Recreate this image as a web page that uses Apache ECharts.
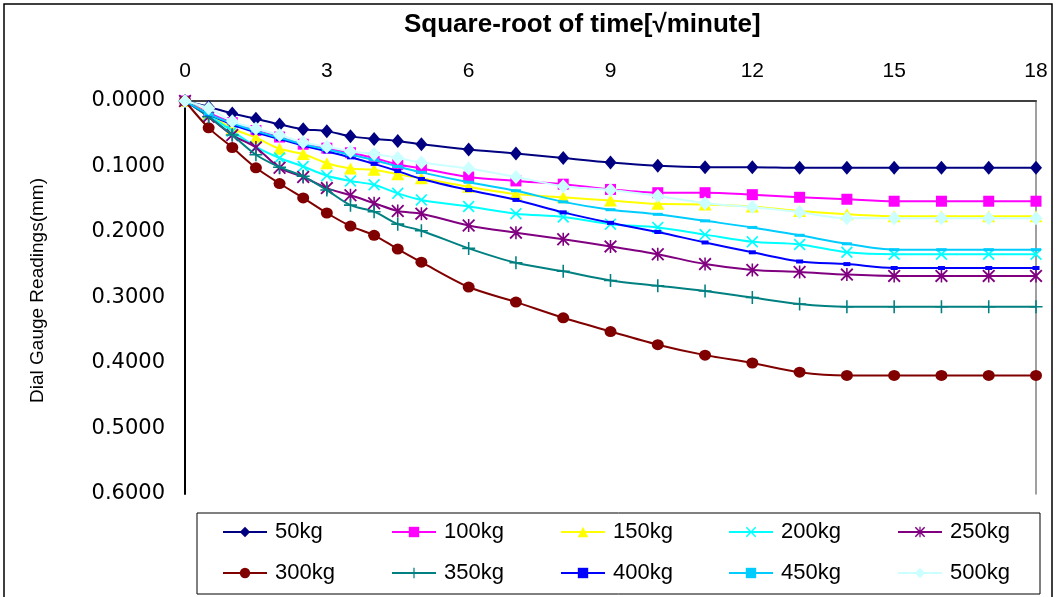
<!DOCTYPE html>
<html>
<head>
<meta charset="utf-8">
<script src="https://cdn.jsdelivr.net/npm/echarts@6/dist/echarts.min.js"></script>
<style>
html,body{margin:0;padding:0;background:#fff;}
#c{width:1058px;height:597px;}
</style>
</head>
<body>
<div id="c"></div>
<script>
// ---- data ----
const xValues = [0,0.5,1,1.5,2,2.5,3,3.5,4,4.5,5,6,7,8,9,10,11,12,13,14,15,16,17,18];
const seriesNames = ['50kg','100kg','150kg','200kg','250kg','300kg','350kg','400kg','450kg','500kg'];
const s50  = [0,0.009,0.019,0.027,0.036,0.043,0.046,0.054,0.058,0.061,0.066,0.074,0.080,0.087,0.094,0.099,0.101,0.101,0.102,0.102,0.102,0.102,0.102,0.102];
const s100 = [0,0.018,0.033,0.045,0.055,0.066,0.072,0.079,0.087,0.097,0.103,0.116,0.122,0.127,0.135,0.140,0.140,0.143,0.147,0.150,0.153,0.153,0.153,0.153];
const s150 = [0,0.020,0.042,0.056,0.073,0.081,0.095,0.103,0.105,0.112,0.118,0.131,0.142,0.147,0.152,0.157,0.158,0.161,0.168,0.173,0.176,0.176,0.176,0.176];
const s200 = [0,0.022,0.046,0.070,0.087,0.100,0.114,0.122,0.128,0.141,0.151,0.161,0.172,0.177,0.188,0.193,0.204,0.215,0.219,0.231,0.234,0.234,0.234,0.234];
const s250 = [0,0.024,0.052,0.071,0.102,0.116,0.133,0.144,0.156,0.168,0.172,0.190,0.201,0.211,0.222,0.234,0.249,0.258,0.261,0.265,0.267,0.267,0.267,0.267];
const s300 = [0,0.041,0.071,0.102,0.126,0.148,0.171,0.191,0.205,0.226,0.246,0.284,0.307,0.331,0.352,0.372,0.388,0.400,0.414,0.419,0.419,0.419,0.419,0.419];
const s350 = [0,0.024,0.052,0.082,0.101,0.115,0.136,0.159,0.169,0.188,0.198,0.225,0.247,0.260,0.274,0.282,0.290,0.300,0.310,0.314,0.314,0.314,0.314,0.314];
const s400 = [0,0.020,0.036,0.048,0.058,0.068,0.077,0.086,0.096,0.107,0.119,0.136,0.151,0.170,0.186,0.200,0.216,0.231,0.245,0.249,0.255,0.255,0.255,0.255];
const s450 = [0,0.020,0.034,0.046,0.056,0.066,0.074,0.082,0.090,0.100,0.109,0.124,0.137,0.154,0.166,0.173,0.183,0.193,0.205,0.218,0.227,0.227,0.227,0.227];
const s500 = [0,0.011,0.031,0.042,0.052,0.063,0.070,0.077,0.081,0.087,0.094,0.103,0.116,0.130,0.136,0.145,0.156,0.162,0.170,0.179,0.179,0.179,0.179,0.179];
const seriesValues = [s50,s100,s150,s200,s250,s300,s350,s400,s450,s500];
const xTitle = 'Square-root of time[\u221Aminute]';
const yTitle = 'Dial Gauge Readings(mm)';

// ---- styles ----
const X_PATH = 'path://M0,1 L1,0 L5,4 L9,0 L10,1 L6,5 L10,9 L9,10 L5,6 L1,10 L0,9 L4,5 Z';
const PLUS_PATH = 'path://M4.4,0 H5.6 V4.4 H10 V5.6 H5.6 V10 H4.4 V5.6 H0 V4.4 H4.4 Z';
const STAR_PATH = 'path://M0,1 L1,0 L5,4 L9,0 L10,1 L6,5 L10,9 L9,10 L5,6 L1,10 L0,9 L4,5 Z M4.4,0 H5.6 V10 H4.4 Z';
const styles = [
  {color:'#000080', symbol:'diamond', size:[12,14]},
  {color:'#FF00FF', symbol:'rect', size:11},
  {color:'#FFFF00', symbol:'triangle', size:[13,12]},
  {color:'#00FFFF', symbol:X_PATH, size:12},
  {color:'#800080', symbol:STAR_PATH, size:13},
  {color:'#800000', symbol:'circle', size:[12,11]},
  {color:'#008080', symbol:PLUS_PATH, size:13},
  {color:'#0000FF', symbol:'rect', size:[7,4]},
  {color:'#00CCFF', symbol:'rect', size:[10,3]},
  {color:'#CCFFFF', symbol:'diamond', size:[13,14]}
];

const series = seriesNames.map((n,i)=>({
  name:n, type:'line', smooth:0.3,
  data: xValues.map((x,j)=>[x, seriesValues[i][j]]),
  symbol: styles[i].symbol, symbolSize: styles[i].size,
  showAllSymbol: true,
  lineStyle:{color:styles[i].color, width:2},
  itemStyle:{color:styles[i].color, borderWidth:0},
  z: 2 + i
}));
// right border helper
series.push({type:'line', yAxisIndex:1, data:[], silent:true});

const colLeft = [222, 391, 560, 728, 897];
const rowTop = [521, 562];
const legends = seriesNames.map((n,i)=>({
  data:[n], orient:'horizontal',
  left: colLeft[i%5], top: rowTop[Math.floor(i/5)],
  itemWidth:44, itemHeight:13, itemGap:0, padding:0,
  selectedMode:false,
  textStyle:{fontFamily:'Liberation Sans', fontSize:22, color:'#000', padding:[0,0,0,3]}
}));

const chart = echarts.init(document.getElementById('c'), null, {renderer:'canvas'});
chart.setOption({
  animation:false,
  backgroundColor:'#fff',
  title:{text:xTitle, left:399, top:7,
    textStyle:{fontFamily:'Liberation Sans', fontWeight:'bold', fontSize:26, color:'#000'}},
  grid:{left:185, right:22, top:101, bottom:103, containLabel:false},
  xAxis:{type:'value', position:'top', min:0, max:18, interval:3,
    axisLine:{show:true, lineStyle:{color:'#404040', width:2}},
    axisTick:{show:false}, splitLine:{show:false},
    axisLabel:{fontFamily:'Liberation Sans', fontSize:21, color:'#000', margin:19}},
  yAxis:[{type:'value', inverse:true, min:0, max:0.6, interval:0.1,
    axisLine:{show:true, lineStyle:{color:'#000', width:2}},
    axisTick:{show:false}, splitLine:{show:false},
    axisLabel:{fontFamily:'DejaVu Sans', fontSize:21, color:'#000', margin:20,
      formatter:v=>v.toFixed(4)},
    name:yTitle, nameLocation:'middle', nameGap:138, nameRotate:90,
    nameTextStyle:{fontFamily:'Liberation Sans', fontSize:19, color:'#000', padding:[0,0,0,14]}},
   {type:'value', position:'right', inverse:true, min:0, max:0.6,
    axisLine:{show:true, lineStyle:{color:'#808080', width:1.5}},
    axisTick:{show:false}, axisLabel:{show:false}, splitLine:{show:false}}],
  legend: legends,
  graphic:[
    {type:'rect', shape:{x:4, y:4, width:1048, height:620}, style:{fill:'none', stroke:'#000', lineWidth:1.5}, silent:true, z:0},
    {type:'rect', shape:{x:197, y:513, width:843, height:81}, style:{fill:'none', stroke:'#000', lineWidth:1}, silent:true, z:0}
  ],
  series: series
});
</script>
</body>
</html>
